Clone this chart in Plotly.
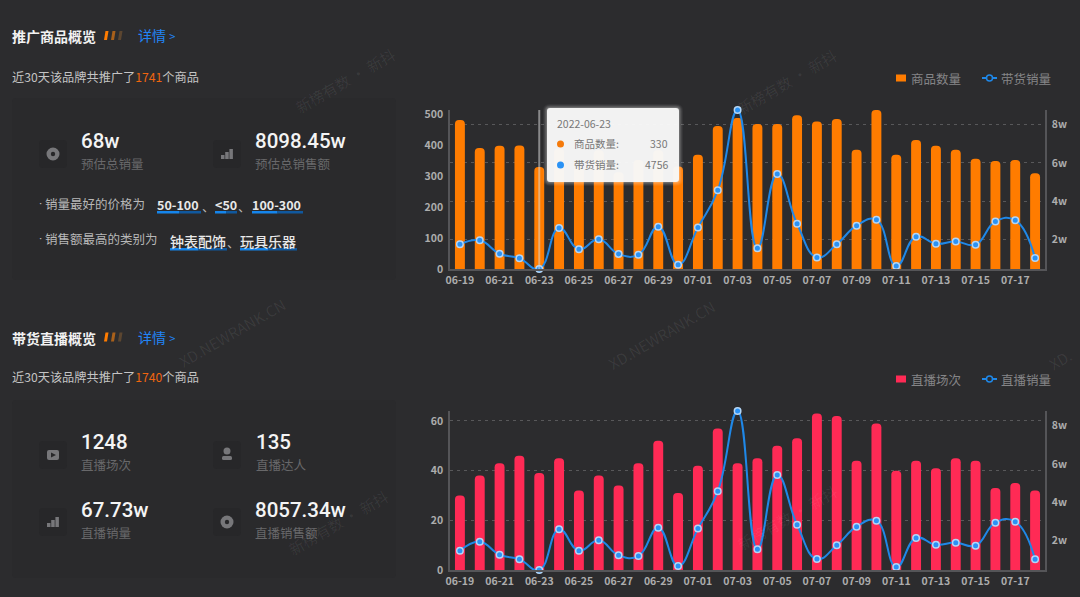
import plotly.graph_objects as go

W, H = 1080, 597

# data
dates = ["06-19", "06-20", "06-21", "06-22", "06-23", "06-24", "06-25", "06-26", "06-27", "06-28",
         "06-29", "06-30", "07-01", "07-02", "07-03", "07-04", "07-05", "07-06", "07-07", "07-08",
         "07-09", "07-10", "07-11", "07-12", "07-13", "07-14", "07-15", "07-16", "07-17", "07-18"]
date_ticks = dates[::2]

goods_count = [483, 392, 399, 400, 330, 390, 330, 385, 313, 353,
               385, 332, 370, 463, 489, 470, 470, 498, 478, 486,
               386, 515, 370, 418, 399, 386, 357, 350, 353, 310]
goods_sales = [17600, 19700, 12700, 10300, 4756, 26100, 15000, 20200, 12600, 12200,
               26800, 7000, 26300, 45700, 87500, 15500, 54200, 28300, 10800, 17600,
               27300, 30400, 6300, 21600, 17900, 19100, 17400, 29500, 30100, 10500]

live_count = [30, 38, 43, 46, 39, 45, 32, 38, 34, 43,
              52, 31, 42, 57, 43, 45, 50, 53, 63, 62,
              44, 59, 40, 44, 41, 45, 44, 33, 35, 32]
live_sales = [14800, 19500, 12700, 10300, 4756, 25900, 14800, 20200, 12400, 12000,
              26800, 6800, 26300, 45700, 87500, 15500, 54200, 28300, 10500, 17600,
              27300, 30400, 6300, 21400, 17900, 19000, 17400, 29400, 29900, 10300]

sales_ticks = [20000, 40000, 60000, 80000]
sales_labels = ["2w", "4w", "6w", "8w"]

BG = "#2c2c2e"
PANEL = "#2a2a2c"
TILE = "#272729"
AXIS = "#555558"
TICK = "#adadad"
GRID = "#58585a"
ORANGE = "#ff7c00"
RED = "#ff2a55"
BLUE = "#1f88e8"
FONT = "Noto Sans CJK SC"
NUM_FONT = "Roboto"


def fx(x):
    return x / W


def fy(y):
    return 1 - y / H


def add_pair(fig, xa, ya, yb, bars, line, bar_name, line_name, color):
    fig.add_bar(x=dates, y=bars, name=bar_name, marker_color=color, marker_line_width=0,
                xaxis=xa, yaxis=ya, showlegend=False)
    fig.add_scatter(x=dates, y=line, name=line_name, mode="lines+markers", xaxis=xa, yaxis=yb,
                    showlegend=False, cliponaxis=False,
                    line=dict(color=BLUE, width=2, shape="spline", smoothing=1.3),
                    marker=dict(size=6.5, color="#2a92f5", line=dict(color="#b5d6f5", width=1.5)))


fig = go.Figure()
add_pair(fig, "x", "y", "y2", goods_count, goods_sales, "商品数量", "带货销量", ORANGE)
add_pair(fig, "x2", "y3", "y4", live_count, live_sales, "直播场次", "直播销量", RED)

shapes = []
notes = []


def text(x, y, s, size=12.5, color="#bbbbbb", weight=400, anchor="left", angle=0, family=FONT):
    # annotations sit about 1px right of the asked position
    if anchor == "left":
        x -= 1
    notes.append(dict(x=fx(x), y=fy(y), xref="paper", yref="paper", text=s, showarrow=False,
                      xanchor=anchor, yanchor="middle", textangle=angle, borderpad=0,
                      font=dict(size=size, color=color, family=family, weight=weight)))


def round_rect(x0, y0, x1, y1, r, fill):
    a, b, c, d = fx(x0), fy(y0), fx(x1), fy(y1)
    rx, ry = r / W, r / H
    path = (f"M{a + rx},{b} L{c - rx},{b} Q{c},{b} {c},{b - ry} L{c},{d + ry} Q{c},{d} {c - rx},{d} "
            f"L{a + rx},{d} Q{a},{d} {a},{d + ry} L{a},{b - ry} Q{a},{b} {a + rx},{b} Z")
    shapes.append(dict(type="path", path=path, xref="paper", yref="paper", fillcolor=fill,
                       line=dict(width=0), layer="above"))


def poly(points, fill):
    path = "M" + " L".join(f"{fx(x)},{fy(y)}" for x, y in points) + " Z"
    shapes.append(dict(type="path", path=path, xref="paper", yref="paper", fillcolor=fill,
                       line=dict(width=0), layer="above"))


def circle(cx, cy, r, fill, line=None):
    shapes.append(dict(type="circle", xref="paper", yref="paper", x0=fx(cx - r), x1=fx(cx + r),
                       y0=fy(cy - r), y1=fy(cy + r), fillcolor=fill,
                       line=line or dict(width=0), layer="above"))


def underline(x0, x1, y):
    mid = (x0 + x1) / 2
    round_rect(x0, y, mid, y + 2.5, 0, "#1585ec")
    round_rect(mid, y, x1, y + 2.5, 0, "#10589e")


def heading(y, title):
    text(12, y, title, size=14, color="#f2f2f2", weight=700)
    for i, c in enumerate(["#ff7c00", "#a9601a", "#5c4630"]):
        x = 104 + i * 7
        poly([(x + 1.5, y - 5.5), (x + 4.5, y - 5.5), (x + 3, y + 3.5), (x, y + 3.5)], c)
    text(138, y - 1.5, "详情 <span style='font-size:11px'>&gt;</span>", size=14, color="#2284f5")


def tile(x, y):
    round_rect(x, y, x + 28, y + 28, 4, TILE)


def stat(x, y, value, label):
    text(x, y, value, size=20.5, color="#f4f4f4", weight=500, family=NUM_FONT)
    text(x, y + 22, label, size=12.5, color="#68686a")


def bars_icon(x, y):
    for i, h in enumerate([4, 7, 10]):
        round_rect(x + 8 + i * 4.2, y + 19 - h, x + 11.5 + i * 4.2, y + 19, 0, "#77777a")


def coin_icon(x, y):
    circle(x + 14, y + 14, 6.5, "#77777a")
    circle(x + 14, y + 14, 2.2, TILE)


def legend_row(y, bar_name, line_name, color):
    round_rect(896, y - 3.5, 906, y + 3.5, 0, color)
    text(911, y, bar_name, size=12.5, color="#858587")
    shapes.append(dict(type="line", xref="paper", yref="paper", x0=fx(982), x1=fx(997), y0=fy(y), y1=fy(y),
                       line=dict(color=BLUE, width=2), layer="above"))
    circle(989.5, y, 3, BG, dict(color=BLUE, width=1.5))
    text(1001, y, line_name, size=12.5, color="#858587")


# page panels go under the left side texts
round_rect(12, 98, 396, 280, 4, PANEL)
round_rect(12, 400, 396, 578, 4, PANEL)

# top left block
heading(36.5, "推广商品概览")
text(12, 77, "近30天该品牌共推广了<span style='color:#f0650e'>1741</span>个商品", size=12.2, color="#c4c4c4")
tile(39, 140)
coin_icon(39, 140)
tile(213, 140)
bars_icon(213, 140)
stat(81, 141, "68w", "预估总销量")
stat(255, 141, "8098.45w", "预估总销售额")
text(39, 203, "·", color="#b8b8b8", family=NUM_FONT)
text(45, 203, "销量最好的价格为", color="#b8b8b8")
text(157, 205, "50-100", color="#e8e8e8", weight=600)
text(202, 206, "、", color="#b8b8b8")
text(215, 205, "&lt;50", color="#e8e8e8", weight=600)
text(238, 206, "、", color="#b8b8b8")
text(252, 205, "100-300", color="#e8e8e8", weight=600)
underline(157, 201, 211)
underline(215, 237, 211)
underline(252, 303, 211)
text(39, 239, "·", color="#b8b8b8", family=NUM_FONT)
text(45, 239, "销售额最高的类别为", color="#b8b8b8")
text(170, 241, "钟表配饰", size=14, color="#e8e8e8", weight=500)
text(227, 242, "、", color="#b8b8b8")
text(240, 241, "玩具乐器", size=14, color="#e8e8e8", weight=500)
underline(170, 227, 248)
underline(240, 297, 248)

# bottom left block
heading(338, "带货直播概览")
text(12, 377, "近30天该品牌共推广了<span style='color:#f0650e'>1740</span>个商品", size=12.2, color="#c4c4c4")
tile(39, 441)
round_rect(47, 450, 59, 460, 2, "#77777a")
poly([(51, 452.5), (56, 455), (51, 457.5)], TILE)
tile(213, 441)
circle(227, 451, 3.5, "#77777a")
round_rect(222, 456, 232, 460, 1.5, "#77777a")
stat(81, 442, "1248", "直播场次")
stat(256, 442, "135", "直播达人")
tile(39, 508)
bars_icon(39, 508)
tile(213, 508)
coin_icon(213, 508)
stat(81, 510, "67.73w", "直播销量")
stat(255, 510, "8057.34w", "直播销售额")

legend_row(78, "商品数量", "带货销量", ORANGE)
legend_row(379, "直播场次", "直播销量", RED)

# faint watermarks
for wx, wy, s in [(345, 80, "新榜有数 · 新抖"), (787, 82, "新榜有数 · 新抖"), (338, 522, "新榜有数 · 新抖"),
                  (787, 517, "新榜有数 · 新抖"), (232, 332, "XD.NEWRANK.CN"), (662, 335, "XD.NEWRANK.CN"),
                  (1060, 360, "XD.")]:
    text(wx, wy, s, size=15, color="rgba(255,255,255,0.07)", anchor="center", angle=-30)

# hovered tooltip on the first chart
shapes.append(dict(type="line", xref="x", yref="paper", x0="06-23", x1="06-23", y0=fy(269), y1=fy(110),
                   line=dict(color="rgba(215,215,215,0.55)", width=2), layer="above"))
for grow, alpha in [(4, 0.05), (3, 0.07), (2, 0.1), (1, 0.14)]:
    round_rect(547 - grow, 108 - grow, 679 + grow, 182 + grow, 3 + grow, f"rgba(255,255,255,{alpha})")
round_rect(547, 108, 679, 182, 3, "rgba(248,248,248,0.96)")
text(557, 123, "2022-06-23", size=10.5, color="#777777")
circle(560.5, 144, 3.5, "#f57a0a")
circle(560.5, 165, 3.5, "#2a92f5")
text(574, 144, "商品数量:", size=10.5, color="#777777")
text(574, 165, "带货销量:", size=10.5, color="#777777")
text(668.5, 144, "330", size=10.5, color="#777777", anchor="right")
text(668.5, 165, "4756", size=10.5, color="#777777", anchor="right")


def x_axis(anchor):
    return dict(domain=[fx(450), fx(1045)], anchor=anchor, type="category", categoryorder="array",
                categoryarray=dates, range=[-0.5, 29.5], tickmode="array", tickvals=date_ticks,
                ticktext=date_ticks, tickangle=0, ticks="", showgrid=False, zeroline=False,
                showline=True, linecolor=AXIS, linewidth=1.5, ticklabelstandoff=1,
                tickfont=dict(size=10.5, color=TICK, family=FONT, weight=600))


def left_axis(top, bottom, rng, vals, grid, anchor):
    return dict(domain=[fy(bottom), fy(top)], anchor=anchor, range=rng, tickmode="array", tickvals=vals,
                ticks="", zeroline=False, showline=True, linecolor=AXIS, linewidth=1.5,
                showgrid=grid, gridcolor=GRID, griddash="3px,4px", gridwidth=1, ticklabelstandoff=3,
                tickfont=dict(size=10.5, color=TICK, family=FONT, weight=600))


def right_axis(top, bottom, over, anchor, grid):
    return dict(domain=[fy(bottom), fy(top)], anchor=anchor, overlaying=over, side="right",
                range=[4756, 87500], tickmode="array", tickvals=sales_ticks, ticktext=sales_labels,
                ticks="", zeroline=False, showline=True, linecolor=AXIS, linewidth=1.5,
                showgrid=grid, gridcolor=GRID, griddash="3px,4px", gridwidth=1, ticklabelstandoff=3,
                tickfont=dict(size=10.5, color=TICK, family=FONT, weight=600))


fig.update_layout(
    width=W,
    height=H,
    margin=dict(l=0, r=0, t=0, b=0, autoexpand=False),
    paper_bgcolor=BG,
    plot_bgcolor="rgba(0,0,0,0)",
    autosize=False,
    bargap=0.5,
    barcornerradius=5,
    font=dict(family=FONT),
    xaxis=x_axis("y"),
    yaxis=left_axis(110, 269, [0, 515], [0, 100, 200, 300, 400, 500], False, "x"),
    yaxis2=right_axis(110, 269, "y", "x", True),
    xaxis2=x_axis("y3"),
    yaxis3=left_axis(411, 570, [0, 64], [0, 20, 40, 60], True, "x2"),
    yaxis4=right_axis(411, 570, "y3", "x2", False),
    shapes=shapes,
    annotations=notes,
)

fig.write_html("out.html", config={"displayModeBar": False},
               post_script="document.body.style.margin='0';document.body.style.background='#2c2c2e';")
